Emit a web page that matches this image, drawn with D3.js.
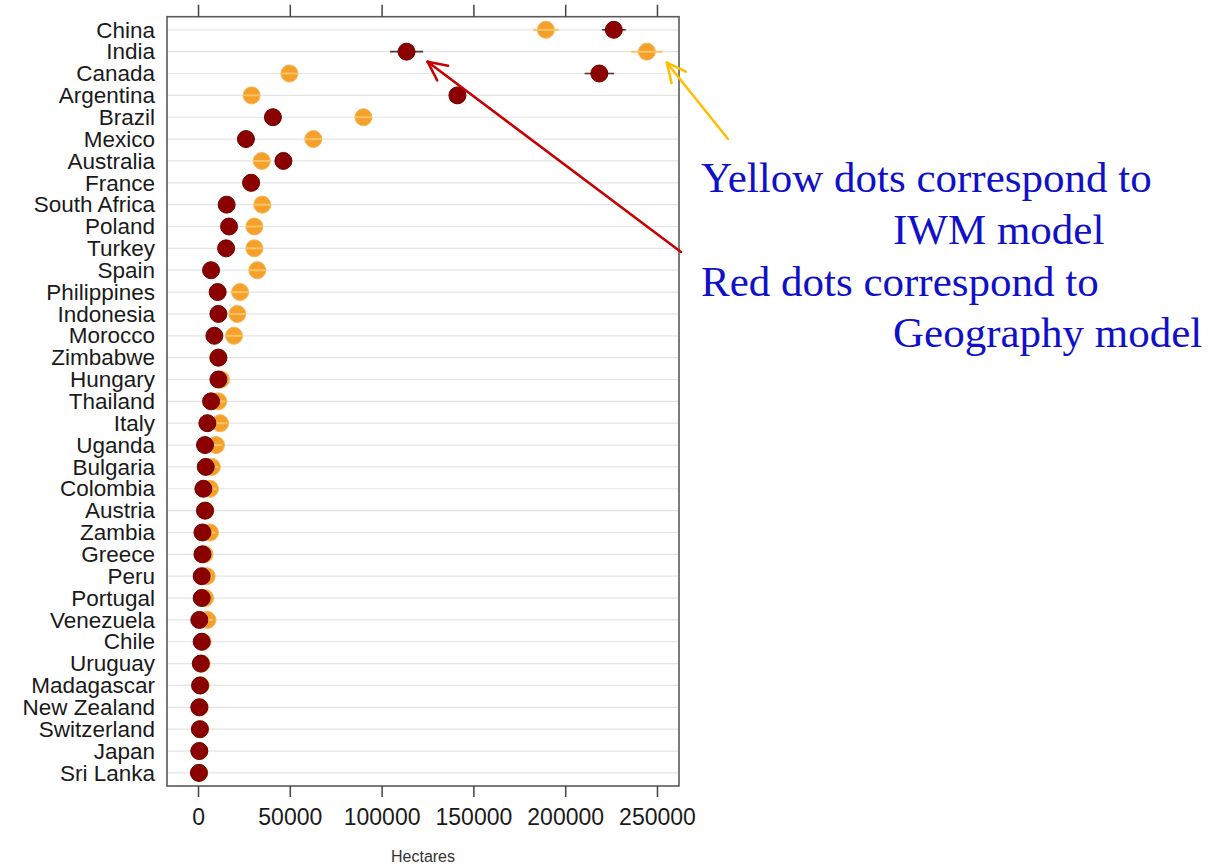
<!DOCTYPE html>
<html>
<head>
<meta charset="utf-8">
<script src="https://cdn.jsdelivr.net/npm/d3@7"></script>
<style>
  html, body { margin: 0; padding: 0; background: #ffffff; }
  svg { display: block; }
</style>
</head>
<body>
<script>
// Country order, top row first
const countries = [
  "China", "India", "Canada", "Argentina", "Brazil", "Mexico", "Australia",
  "France", "South Africa", "Poland", "Turkey", "Spain", "Philippines",
  "Indonesia", "Morocco", "Zimbabwe", "Hungary", "Thailand", "Italy",
  "Uganda", "Bulgaria", "Colombia", "Austria", "Zambia", "Greece", "Peru",
  "Portugal", "Venezuela", "Chile", "Uruguay", "Madagascar", "New Zealand",
  "Switzerland", "Japan", "Sri Lanka"
];

// Geography model estimates (hectares)
const geographyValues = [
  226500, 113600, 218600, 141300, 40800, 26100, 46500,
  28900, 15600, 16900, 15300, 7100, 10700,
  11100, 8900, 11100, 11100, 7100, 5100,
  3800, 4200, 2900, 3800, 2400, 2400, 2000,
  2000, 700, 2000, 1500, 1100, 700,
  1000, 700, 500
];
// Geography model interval half-widths (hectares)
const geographyErrors = [
  6500, 9000, 8000, 3000, 2000, 1500, 2000,
  1500, 1000, 1000, 1000, 800, 800,
  800, 700, 700, 700, 600, 500,
  400, 400, 300, 300, 300, 300, 200,
  200, 200, 200, 200, 100, 100,
  100, 100, 100
];

// IWM model estimates (hectares)
const iwmValues = [
  189500, 244500, 49800, 29200, 90100, 62800, 34700,
  29000, 35000, 30700, 30700, 32300, 22900,
  21400, 19600, 11000, 12500, 11000, 12000,
  9800, 7500, 6500, 4000, 6500, 3500, 4700,
  3800, 5100, 2500, 2000, 1500, 1000,
  1200, 800, 600
];
// IWM model interval half-widths (hectares)
const iwmErrors = [
  7000, 8500, 4500, 4500, 4500, 4500, 4500,
  4500, 4500, 4500, 4500, 4500, 4500,
  4500, 4500, 4000, 4000, 4000, 4000,
  3500, 3500, 3500, 3000, 3000, 3000, 3000,
  3000, 3000, 2500, 2500, 2500, 2500,
  2500, 2500, 2500
];

const xTicks = [0, 50000, 100000, 150000, 200000, 250000];
const xLabel = "Hectares";
const noteLines = [
  { text: "Yellow dots correspond to", indent: false },
  { text: "IWM model", indent: true },
  { text: "Red dots correspond to", indent: false },
  { text: "Geography model", indent: true }
];

const W = 1213, H = 866;
const frame = { left: 167, right: 679, top: 16.7, bottom: 786 };

const svg = d3.select("body").append("svg")
  .attr("width", W).attr("height", H)
  .style("font-family", "'Liberation Sans', Arial, sans-serif");

const x = d3.scaleLinear().domain([-16900, 262000]).range([frame.left, frame.right]);
const y = d3.scalePoint().domain(countries).range([frame.top, frame.bottom]).padding(0.6);

const rows = countries.map((c, i) => ({
  country: c,
  geo: geographyValues[i], geoErr: geographyErrors[i],
  iwm: iwmValues[i], iwmErr: iwmErrors[i]
}));

// Row guide lines
svg.append("g").selectAll("line").data(countries).join("line")
  .attr("x1", frame.left).attr("x2", frame.right)
  .attr("y1", d => y(d)).attr("y2", d => y(d))
  .attr("stroke", "#e4e4e4").attr("stroke-width", 1.2);

// IWM model: dots with a light bar through them
const iwmG = svg.append("g");
iwmG.selectAll("circle").data(rows).join("circle")
  .attr("cx", d => x(d.iwm)).attr("cy", d => y(d.country))
  .attr("r", 8.5)
  .attr("fill", "#f4a02a").attr("stroke", "#f7b550").attr("stroke-width", 1);
iwmG.selectAll("line").data(rows).join("line")
  .attr("x1", d => x(d.iwm - d.iwmErr)).attr("x2", d => x(d.iwm + d.iwmErr))
  .attr("y1", d => y(d.country)).attr("y2", d => y(d.country))
  .attr("stroke", "#fcc462").attr("stroke-width", 2);

// Geography model: dark bar behind dark red dots
const geoG = svg.append("g");
geoG.selectAll("line").data(rows).join("line")
  .attr("x1", d => x(d.geo - d.geoErr)).attr("x2", d => x(d.geo + d.geoErr))
  .attr("y1", d => y(d.country)).attr("y2", d => y(d.country))
  .attr("stroke", "#5a3434").attr("stroke-width", 1.6);
geoG.selectAll("circle").data(rows).join("circle")
  .attr("cx", d => x(d.geo)).attr("cy", d => y(d.country))
  .attr("r", 8.5)
  .attr("fill", "#8b0000").attr("stroke", "#6e0000").attr("stroke-width", 1);

// Panel frame
svg.append("rect")
  .attr("x", frame.left).attr("y", frame.top)
  .attr("width", frame.right - frame.left).attr("height", frame.bottom - frame.top)
  .attr("fill", "none").attr("stroke", "#5a5a5a").attr("stroke-width", 1.6);

// Top axis: ticks only
const topAxis = svg.append("g").attr("transform", `translate(0,${frame.top})`)
  .call(d3.axisTop(x).tickValues(xTicks).tickSize(12).tickFormat(""));
topAxis.select(".domain").remove();
topAxis.selectAll("line").attr("stroke", "#444").attr("stroke-width", 1.5);

// Bottom axis with labels
const botAxis = svg.append("g").attr("transform", `translate(0,${frame.bottom})`)
  .call(d3.axisBottom(x).tickValues(xTicks).tickSize(11).tickPadding(12).tickFormat(d3.format("d")));
botAxis.select(".domain").remove();
botAxis.selectAll("line").attr("stroke", "#444").attr("stroke-width", 1.5);
botAxis.selectAll("text")
  .style("font-family", "'Liberation Sans', Arial, sans-serif")
  .attr("font-size", 23).attr("fill", "#1a1a1a");

// Country labels
const leftAxis = svg.append("g").attr("transform", `translate(${frame.left},0)`)
  .call(d3.axisLeft(y).tickSize(0).tickPadding(12));
leftAxis.select(".domain").remove();
leftAxis.selectAll("text")
  .style("font-family", "'Liberation Sans', Arial, sans-serif")
  .attr("font-size", 22.5).attr("fill", "#1a1a1a");

// Axis title
svg.append("text")
  .attr("x", (frame.left + frame.right) / 2).attr("y", 862)
  .attr("text-anchor", "middle")
  .attr("font-size", 16).attr("fill", "#333")
  .text(xLabel);

// Explanatory note
const note = svg.append("g")
  .style("font-family", "'Liberation Serif', 'Times New Roman', serif")
  .attr("font-size", 43).attr("fill", "#1010c8");
noteLines.forEach((l, i) => {
  note.append("text")
    .attr("x", l.indent ? 893 : 701)
    .attr("y", 192 + i * 51.8)
    .text(l.text);
});

// Arrows pointing to India's two estimates
function arrow(tail, tip, color) {
  const g = svg.append("g").attr("stroke", color).attr("stroke-width", 2.5)
    .attr("fill", "none").attr("stroke-linecap", "round");
  g.append("line").attr("x1", tail[0]).attr("y1", tail[1]).attr("x2", tip[0]).attr("y2", tip[1]);
  const ang = Math.atan2(tail[1] - tip[1], tail[0] - tip[0]);
  const len = 21, spread = 0.45;
  [ang - spread, ang + spread].forEach(a => {
    g.append("line")
      .attr("x1", tip[0]).attr("y1", tip[1])
      .attr("x2", tip[0] + len * Math.cos(a)).attr("y2", tip[1] + len * Math.sin(a));
  });
}
const india = rows[1];
arrow([681, 252], [x(india.geo) + 21, y(india.country) + 10], "#c80000");
arrow([728, 139], [x(india.iwm) + 20, y(india.country) + 11], "#ffbf00");
</script>
</body>
</html>
